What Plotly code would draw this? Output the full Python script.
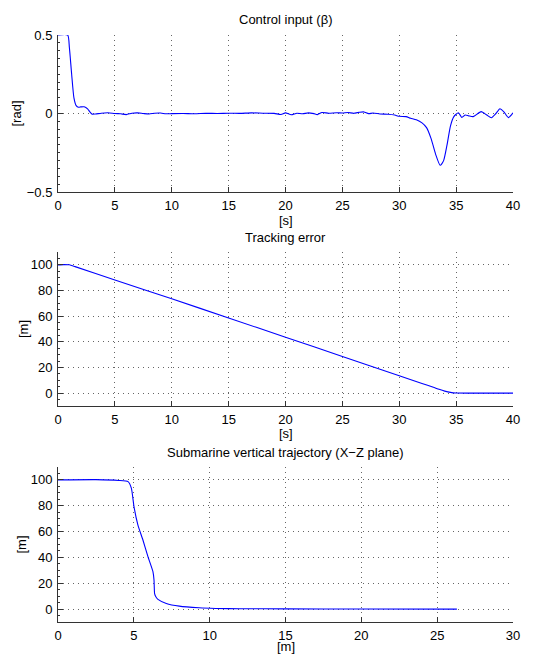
import plotly.graph_objects as go

# ---- Data ----
t_beta = [0, 0.85, 1.0, 1.2, 1.4, 1.6, 1.8, 2.0, 2.3, 2.6, 2.8, 3.0, 3.3, 3.8, 4.4, 5.0, 5.5, 6.0,
          6.5, 7.0, 7.5, 8.0, 8.5, 9.0, 9.5, 10, 11, 12, 13, 14, 15, 16, 17, 18, 19, 19.6, 20,
          20.5, 21, 21.5, 22, 22.5, 22.8, 23.2, 23.8, 24.5, 25, 25.5, 26, 26.5, 26.9, 27.3, 27.7,
          28.3, 29, 29.6, 30.0, 30.6, 31.0, 31.5, 32.0, 32.4, 32.8, 33.2, 33.6, 33.9, 34.2, 34.5,
          34.8, 35.2, 35.5, 35.8, 36.1, 36.5, 37.2, 37.7, 38.1, 38.5, 38.85, 39.2, 39.6, 40]
beta = [0.5, 0.5, 0.42, 0.25, 0.1, 0.05, 0.04, 0.042, 0.043, 0.03, 0.01, -0.004, -0.003, 0.002,
        0.005, 0.0, -0.002, -0.007, 0.002, 0.004, 0.0, -0.003, 0.002, 0.003, -0.002, -0.001, 0.0,
        -0.002, 0.001, 0.0, 0.002, 0.001, 0.004, 0.002, 0.001, -0.006, 0.004, -0.008, 0.002,
        -0.002, 0.004, -0.001, -0.007, 0.006, 0.002, 0.005, 0.003, 0.006, 0.002, 0.008, 0.01,
        -0.001, 0.003, -0.003, -0.005, -0.01, -0.018, -0.02, -0.03, -0.04, -0.06, -0.09, -0.16,
        -0.26, -0.33, -0.3, -0.2, -0.08, -0.02, 0.005, -0.025, -0.01, -0.015, -0.02, 0.012,
        -0.01, -0.027, 0.0, 0.03, 0.01, -0.026, 0.004]

t_err = [0, 0.5, 1.0, 1.5, 5, 10, 15, 20, 25, 30, 32, 33, 33.5, 34, 34.5, 35, 36, 40]
err = [100, 100.2, 100, 98.6, 88.2, 73.5, 58.6, 43.6, 28.6, 13.6, 7.6, 4.6, 3.0, 1.6, 0.6, 0.1, 0, 0]

traj_x = [0, 2.5, 4.0, 4.62, 4.84, 5.01, 5.27, 5.6, 5.93, 6.26, 6.33, 6.37, 6.45, 6.59, 7.14,
          8.0, 9.3, 10.4, 12, 15, 20, 26.3]
traj_z = [100, 100.2, 99.6, 98.7, 93.5, 79.3, 65, 53.5, 40.6, 29, 22.5, 12, 9.5, 7.5, 4.4,
          2.3, 1.0, 0.5, 0.3, 0.15, 0.05, 0]

titles = ["Control input (\u03b2)", "Tracking error", "Submarine vertical trajectory (X\u2212Z plane)"]
xlabels = ["[s]", "[s]", "[m]"]
ylabels = ["[rad]", "[m]", "[m]"]

# page has an 8px body margin: figure is drawn 8px smaller, coordinates shifted by 8
OFF = 8
W, H = 538 - OFF, 654 - OFF
FONT = "Liberation Sans, Arial, sans-serif"
FS = 13
BLUE = "#0000ff"

def px_x(p):
    return (p - OFF) / W

def px_y(p):
    return 1 - (p - OFF) / H

fig = go.Figure()
fig.add_trace(go.Scatter(x=t_beta, y=beta, mode="lines", line=dict(color=BLUE, width=1.1, shape="spline", smoothing=0.6),
                         xaxis="x", yaxis="y", showlegend=False))
fig.add_trace(go.Scatter(x=t_err, y=err, mode="lines", line=dict(color=BLUE, width=1.1, shape="spline", smoothing=0.5),
                         xaxis="x2", yaxis="y2", showlegend=False))
fig.add_trace(go.Scatter(x=traj_x, y=traj_z, mode="lines", line=dict(color=BLUE, width=1.1, shape="spline", smoothing=0.5),
                         xaxis="x3", yaxis="y3", showlegend=False))

xdom = [px_x(58), px_x(513)]
panels = [(35, 192), (252, 406), (467, 622)]
ydoms = [[px_y(b), px_y(t)] for (t, b) in panels]

common_axis = dict(showline=True, linecolor="#333333", linewidth=1, mirror=False,
                   ticks="inside", ticklen=5, tickcolor="#333333", automargin=False,
                   showgrid=True, gridcolor="#666666", griddash="1px,4px", gridwidth=1,
                   zeroline=False, tickfont=dict(family=FONT, size=FS, color="black"))

layout = dict(width=W, height=H, margin=dict(l=0, r=0, t=0, b=0, autoexpand=False),
              plot_bgcolor="white", paper_bgcolor="white", showlegend=False,
              font=dict(family=FONT, size=FS, color="black"))

xranges = [[0, 40], [0, 40], [0, 30]]
yranges = [[-0.5, 0.5], [-10, 110], [-10, 110]]
ytickvals = [[-0.5, 0, 0.5], [0, 20, 40, 60, 80, 100], [0, 20, 40, 60, 80, 100]]
yticktext = [["\u22120.5", "0", "0.5"], None, None]
yminor = [0.05, 5, 5]

for i in range(3):
    sx = "" if i == 0 else str(i + 1)
    ax = dict(common_axis)
    ax.update(domain=xdom, range=xranges[i], dtick=5, anchor="y" + sx, ticklabelstandoff=1)
    ay = dict(common_axis)
    ay.update(domain=ydoms[i], range=yranges[i], tickvals=ytickvals[i], anchor="x" + sx,
              ticklabelstandoff=2,
              minor=dict(ticks="inside", ticklen=2, dtick=yminor[i], tickcolor="#333333", showgrid=False))
    if yticktext[i] is not None:
        ay["ticktext"] = yticktext[i]
    layout["xaxis" + sx] = ax
    layout["yaxis" + sx] = ay

fig.update_layout(**layout)

title_y = [20, 237, 452]
xlabel_y = [220, 434, 646]
ylabel_x = [16, 23, 21]
xmid = (xdom[0] + xdom[1]) / 2
for i in range(3):
    top, bot = panels[i]
    fig.add_annotation(text=titles[i], xref="paper", yref="paper", x=xmid,
                       y=px_y(title_y[i]), showarrow=False, xanchor="center", yanchor="middle",
                       font=dict(family=FONT, size=FS, color="black"))
    fig.add_annotation(text=xlabels[i], xref="paper", yref="paper", x=xmid,
                       y=px_y(xlabel_y[i]), showarrow=False, xanchor="center", yanchor="middle",
                       font=dict(family=FONT, size=FS, color="black"))
    fig.add_annotation(text=ylabels[i], xref="paper", yref="paper", x=px_x(ylabel_x[i]),
                       y=px_y((top + bot) / 2), showarrow=False, xanchor="center", yanchor="middle",
                       textangle=-90, font=dict(family=FONT, size=FS, color="black"))

fig.write_html("out.html")
